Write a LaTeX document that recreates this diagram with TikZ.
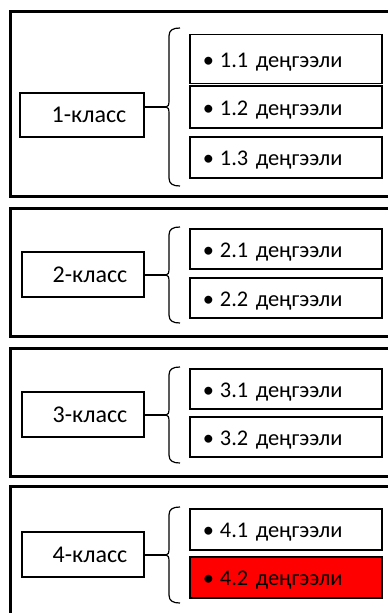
\documentclass[tikz,border=0pt]{standalone}
\usepackage{fontspec}
\setmainfont{Carlito}
\tikzset{>=stealth}
\tikzset{
  ramka/.style={draw, line width=3pt},
  klass/.style={draw, line width=1.6pt, minimum width=122pt, minimum height=45pt, inner sep=0pt, font=\fontsize{24}{28}\selectfont},
  daraja/.style={draw, line width=1.6pt, anchor=north west, minimum width=192pt, text width=166pt, inner xsep=13pt, inner ysep=0pt, align=left, text height=21pt, text depth=4.5pt, font=\fontsize{22.4}{26}\selectfont},
  qavs/.style={line width=1.2pt},
}
% brace: name, top, middle, bottom
\newcommand{\skobka}[4]{%
  \draw[qavs] (180,#2) .. controls (173,#2) and (169,#2+2) .. (169,#2+8) -- (169,#3-6)
    .. controls (169,#3-2) and (168,#3) .. (166,#3)
    .. controls (168,#3) and (169,#3+2) .. (169,#3+6) -- (169,#4-8)
    .. controls (169,#4-2) and (173,#4) .. (180,#4);
  \coordinate (#1) at (166,#3);}
\newcommand{\bul}{\textbullet\hspace{6pt}}

\begin{document}
\begin{tikzpicture}[x=1pt, y=-1pt]
\useasboundingbox (0,0) rectangle (388,613);
\clip (0,0) rectangle (388,613);
\fill[white] (0,0) rectangle (388,613);

% frames
\draw[ramka] (10.5,11.5) rectangle (400,196);
\draw[ramka] (10.5,208.5) rectangle (400,336.5);
\draw[ramka] (10.5,348.5) rectangle (400,476.5);
\draw[ramka] (10.5,486.5) rectangle (400,640);

% 1-класс
\node[klass, minimum width=124pt, minimum height=44pt] (k1) at (82,115) {\hspace*{14pt}1-класс};
\skobka{s1}{28}{107}{186}
\draw[qavs] (k1.east |- s1) -- (s1);
\node[daraja, minimum height=49pt] (d11) at (189,33.5) {\bul 1.1 деңгээли};
\node[daraja, minimum height=42pt] (d12) at (189,85) {\bul 1.2 деңгээли};
\node[daraja, minimum height=41pt] (d13) at (189,136) {\bul 1.3 деңгээли};

% 2-класс
\node[klass] (k2) at (83,274.5) {\hspace*{14pt}2-класс};
\skobka{s2}{227}{275}{323}
\draw[qavs] (k2.east |- s2) -- (s2);
\node[daraja, minimum height=40pt] (d21) at (189,228) {\bul 2.1 деңгээли};
\node[daraja, minimum height=40pt] (d22) at (189,277) {\bul 2.2 деңгээли};

% 3-класс
\node[klass] (k3) at (83,414.5) {\hspace*{14pt}3-класс};
\skobka{s3}{367}{415}{463}
\draw[qavs] (k3.east |- s3) -- (s3);
\node[daraja, minimum height=40pt] (d31) at (189,368) {\bul 3.1 деңгээли};
\node[daraja, minimum height=40pt] (d32) at (189,416) {\bul 3.2 деңгээли};

% 4-класс
\node[klass] (k4) at (83,554.5) {\hspace*{14pt}4-класс};
\skobka{s4}{507}{555}{603}
\draw[qavs] (k4.east |- s4) -- (s4);
\node[daraja, minimum height=41pt] (d41) at (189,508) {\bul 4.1 деңгээли};
\node[daraja, minimum height=41pt, fill=red] (d42) at (189,556) {\bul 4.2 деңгээли};
\end{tikzpicture}
\end{document}
